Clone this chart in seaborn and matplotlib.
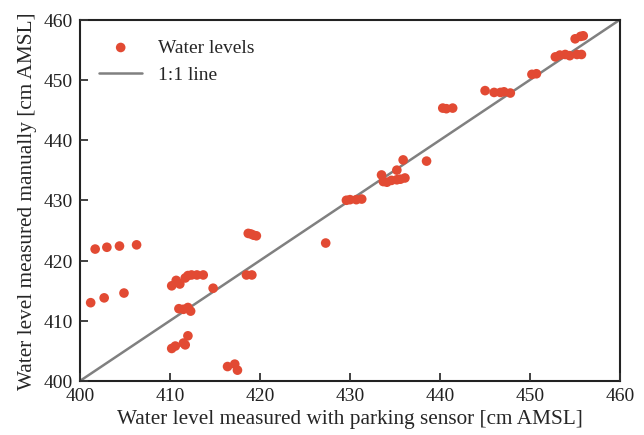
import matplotlib
matplotlib.use("Agg")
import matplotlib.pyplot as plt
import seaborn as sns
import pandas as pd

sensor = [401.7, 403.0, 404.4, 406.3,
          401.2, 402.7, 404.9,
          410.2, 410.7, 411.1, 411.7, 412.0, 412.4, 413.0, 413.7, 414.8,
          411.0, 411.5, 412.0, 412.3,
          410.2, 410.6, 411.5, 411.7, 412.0,
          416.4, 417.2, 417.5,
          418.5, 419.1,
          418.7, 419.0, 419.3, 419.6,
          427.3,
          429.6, 430.0, 430.7, 431.3,
          433.5, 433.7, 434.1, 434.6, 435.2, 435.6, 435.2, 436.1, 435.9, 438.5,
          440.3, 440.7, 441.4,
          445.0, 446.0, 446.7, 447.1, 447.8,
          450.2, 450.7,
          452.8, 453.3, 453.9, 454.4, 455.2, 455.7,
          455.0, 455.6, 455.9]
manual = [421.9, 422.2, 422.4, 422.6,
          413.0, 413.8, 414.6,
          415.8, 416.7, 416.1, 417.1, 417.5, 417.6, 417.6, 417.6, 415.4,
          412.0, 411.9, 412.2, 411.6,
          405.4, 405.8, 406.3, 406.0, 407.5,
          402.4, 402.8, 401.8,
          417.6, 417.6,
          424.5, 424.4, 424.2, 424.1,
          422.9,
          430.0, 430.1, 430.1, 430.2,
          434.2, 433.1, 433.0, 433.3, 433.4, 433.5, 435.0, 433.7, 436.7, 436.5,
          445.3, 445.2, 445.3,
          448.2, 447.9, 447.9, 448.0, 447.8,
          450.9, 451.0,
          453.8, 454.1, 454.2, 454.0, 454.2, 454.2,
          456.8, 457.2, 457.3]
line_x = [400, 460]
line_y = [400, 460]
ticks = [400, 410, 420, 430, 440, 450, 460]

df = pd.DataFrame({"sensor": sensor, "manual": manual})

sns.set_style("ticks")
plt.rcParams['font.family'] = ['Liberation Serif', 'DejaVu Serif']
plt.rcParams['mathtext.fontset'] = 'stix'
plt.rcParams['axes.axisbelow'] = False

fig = plt.figure(figsize=(6.44, 4.355), dpi=100)
ax = fig.add_axes([0.124, 0.124, 0.839, 0.830])

sns.scatterplot(data=df, x="sensor", y="manual", ax=ax, color="#e24a33",
                s=48, edgecolor="none", label="Water levels", zorder=3)
sns.lineplot(x=line_x, y=line_y, ax=ax, color="#808080", lw=1.8,
             label="1:1 line", zorder=2)

ax.set_xlim(400, 460)
ax.set_ylim(400, 460)
ax.set_xticks(ticks)
ax.set_yticks(ticks)
ax.tick_params(which="major", direction="in", length=6, width=1.3, labelsize=14,
               pad=5, color="#333333", labelcolor="#222222",
               bottom=True, left=True, top=False, right=False)
for sp in ax.spines.values():
    sp.set_linewidth(1.5)
    sp.set_color("#222222")
ax.set_xlabel("Water level measured with parking sensor [cm AMSL]", fontsize=15.3, labelpad=3)
ax.set_ylabel("Water level measured manually [cm AMSL]", fontsize=15.3, labelpad=5)

leg = ax.legend(loc="upper left", frameon=False, fontsize=14, handlelength=2.2,
                borderaxespad=0.6, labelspacing=0.5)

fig.savefig("out.png", dpi=100)
